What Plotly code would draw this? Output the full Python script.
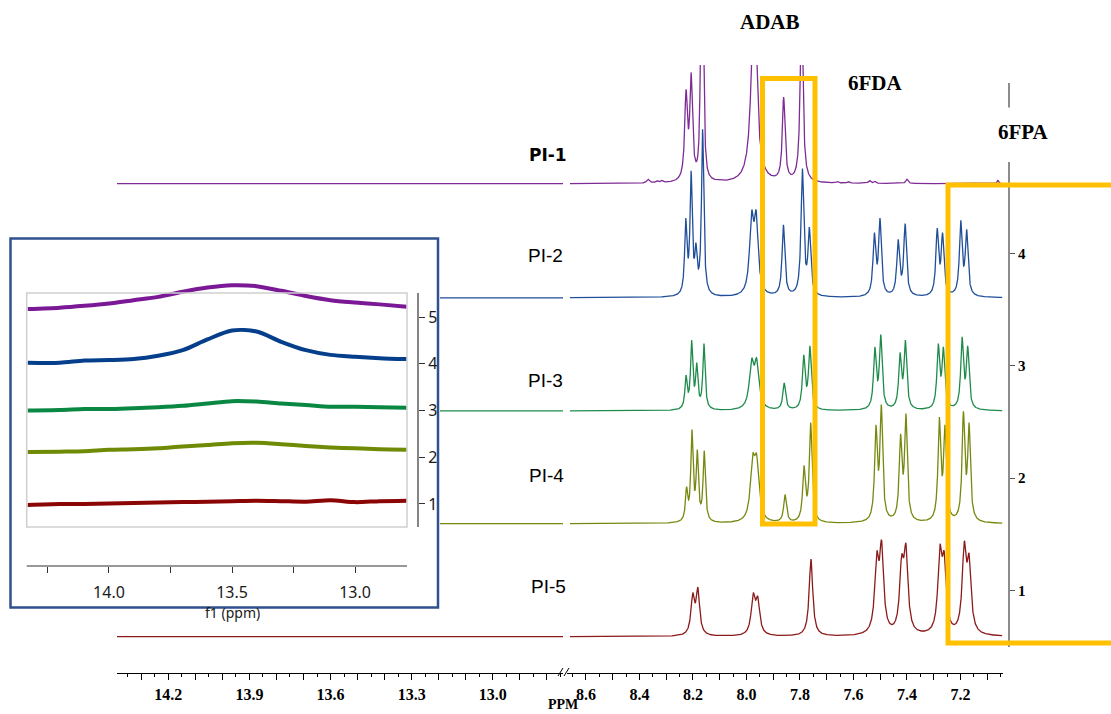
import numpy as np
import plotly.graph_objects as go

W, H = 1111, 714

# ------------------------------------------------------------------ data
series_names = ["PI-1", "PI-2", "PI-3", "PI-4", "PI-5"]
baselines = [4.62, 3.605, 2.598, 1.595, 0.59]
main_colors = ["#7e2b96", "#1f4e9a", "#1e8b4b", "#77880f", "#8b1a1a"]
inset_colors = ["#7a1896", "#053f8b", "#0a8743", "#6f8a05", "#8b0505"]

# peak tables: position (ppm), apex height above baseline, half width (ppm)
pi1_ppm = [8.368, 8.335, 8.316, 8.226, 8.207, 8.170, 8.162, 8.110, 7.972, 7.861, 7.794, 7.660, 7.620, 7.540, 7.520, 7.400, 7.060]
pi1_height = [0.04, 0.03, 0.03, 0.84, 0.99, 1.60, 1.60, 0.04, 1.70, 0.77, 1.60, 0.02, 0.02, 0.03, 0.02, 0.04, 0.03]
pi1_hwhm = [0.006, 0.005, 0.005, 0.006, 0.006, 0.004, 0.004, 0.005, 0.012, 0.006, 0.006, 0.005, 0.005, 0.005, 0.005, 0.005, 0.003]

pi2_ppm = [8.227, 8.207, 8.189, 8.164, 7.981, 7.964, 7.862, 7.791, 7.765, 7.522, 7.501, 7.433, 7.407, 7.287, 7.267, 7.199, 7.177]
pi2_height = [0.71, 1.13, 0.49, 1.50, 0.78, 0.78, 0.65, 1.15, 0.63, 0.58, 0.71, 0.52, 0.66, 0.62, 0.58, 0.69, 0.61]
pi2_hwhm = [0.005, 0.005, 0.005, 0.005, 0.009, 0.009, 0.006, 0.006, 0.006, 0.006, 0.006, 0.006, 0.006, 0.006, 0.006, 0.006, 0.006]

pi3_ppm = [8.226, 8.205, 8.186, 8.159, 7.981, 7.962, 7.859, 7.786, 7.763, 7.520, 7.498, 7.426, 7.406, 7.283, 7.264, 7.194, 7.173]
pi3_height = [0.32, 0.63, 0.43, 0.60, 0.47, 0.47, 0.25, 0.50, 0.58, 0.57, 0.68, 0.52, 0.63, 0.60, 0.57, 0.66, 0.58]
pi3_hwhm = [0.005, 0.005, 0.005, 0.005, 0.010, 0.010, 0.006, 0.006, 0.006, 0.006, 0.006, 0.006, 0.006, 0.006, 0.006, 0.006, 0.006]

pi4_ppm = [8.224, 8.204, 8.184, 8.158, 7.977, 7.962, 7.856, 7.785, 7.760, 7.516, 7.496, 7.424, 7.404, 7.279, 7.258, 7.189, 7.168]
pi4_height = [0.33, 0.84, 0.66, 0.65, 0.62, 0.62, 0.26, 0.52, 0.90, 0.88, 1.06, 0.80, 0.98, 0.95, 0.88, 1.00, 0.90]
pi4_hwhm = [0.005, 0.005, 0.005, 0.005, 0.010, 0.010, 0.006, 0.006, 0.006, 0.006, 0.006, 0.006, 0.006, 0.006, 0.006, 0.006, 0.006]

pi5_ppm = [8.201, 8.182, 7.975, 7.958, 7.759, 7.513, 7.495, 7.420, 7.404, 7.277, 7.261, 7.186, 7.168]
pi5_height = [0.39, 0.44, 0.39, 0.36, 0.69, 0.76, 0.86, 0.73, 0.83, 0.82, 0.76, 0.85, 0.74]
pi5_hwhm = [0.008, 0.008, 0.009, 0.009, 0.008, 0.009, 0.009, 0.009, 0.009, 0.009, 0.009, 0.009, 0.009]

peak_tables = [
    (pi1_ppm, pi1_height, pi1_hwhm),
    (pi2_ppm, pi2_height, pi2_hwhm),
    (pi3_ppm, pi3_height, pi3_hwhm),
    (pi4_ppm, pi4_height, pi4_hwhm),
    (pi5_ppm, pi5_height, pi5_hwhm),
]

# inset (13-14 ppm region)
inset_ppm = [14.33, 14.2, 14.1, 14.0, 13.9, 13.8, 13.7, 13.6, 13.5, 13.4, 13.3, 13.2, 13.1, 13.0, 12.9, 12.79]
inset_pi1 = [5.17, 5.20, 5.24, 5.29, 5.36, 5.43, 5.54, 5.63, 5.68, 5.66, 5.56, 5.45, 5.36, 5.31, 5.27, 5.22]
inset_pi2 = [4.02, 4.02, 4.07, 4.08, 4.10, 4.17, 4.29, 4.52, 4.71, 4.69, 4.47, 4.29, 4.19, 4.15, 4.12, 4.10]
inset_pi3 = [3.00, 3.01, 3.03, 3.03, 3.05, 3.07, 3.10, 3.15, 3.20, 3.19, 3.15, 3.12, 3.08, 3.08, 3.07, 3.06]
inset_pi4 = [2.11, 2.12, 2.13, 2.16, 2.17, 2.19, 2.23, 2.26, 2.30, 2.31, 2.28, 2.24, 2.21, 2.19, 2.17, 2.16]
inset_pi5 = [0.98, 1.00, 1.00, 1.01, 1.02, 1.03, 1.04, 1.05, 1.06, 1.07, 1.06, 1.05, 1.08, 1.04, 1.06, 1.07]
inset_series = [inset_pi1, inset_pi2, inset_pi3, inset_pi4, inset_pi5]

left_tick_labels = [14.2, 13.9, 13.6, 13.3, 13.0]
right_tick_labels = [8.6, 8.4, 8.2, 8.0, 7.8, 7.6, 7.4, 7.2]
y_tick_values = [1, 2, 3, 4]
inset_x_ticks = [14.25, 14.0, 13.75, 13.5, 13.25, 13.0]
inset_x_labels = [14.0, 13.5, 13.0]
inset_y_ticks = [1, 2, 3, 4, 5]

# axis windows
left_range = [14.39, 12.74]
right_range = [8.671, 7.041]
y_range = [0.2695, 5.676]
inset_x_range = [14.402, 12.655]
inset_y_range = [-1.225, 6.69]


# ------------------------------------------------------------------ helpers
def px(x):
    return x / W


def py(y):
    return 1 - y / H


def lorentz_spectrum(x, pos, hgt, hw, base):
    pos = np.asarray(pos, float)
    hgt = np.asarray(hgt, float)
    hw = np.asarray(hw, float)
    M = 1.0 / (1.0 + ((pos[:, None] - pos[None, :]) / hw[None, :]) ** 2)
    active = np.ones(len(pos), bool)
    amp = np.zeros(len(pos))
    for _ in range(10):
        sub = np.linalg.lstsq(M[np.ix_(active, active)], hgt[active], rcond=None)[0]
        amp[:] = 0
        amp[active] = sub
        if (amp >= 0).all():
            break
        active &= amp > 0
    amp = np.clip(amp, 0, None)
    return base + (amp[None, :] / (1 + ((x[:, None] - pos[None, :]) / hw[None, :]) ** 2)).sum(axis=1)


fig = go.Figure()

x_left = np.linspace(left_range[0], left_range[1], 200)
x_right = np.linspace(8.66, 7.044, 4000)

for name, base, col, (pp, hh, ww) in zip(series_names, baselines, main_colors, peak_tables):
    fig.add_trace(go.Scatter(x=x_left, y=np.full_like(x_left, base), xaxis="x", yaxis="y",
                             mode="lines", line=dict(color=col, width=1.3), hoverinfo="skip"))
    fig.add_trace(go.Scatter(x=x_right, y=lorentz_spectrum(x_right, pp, hh, ww, base),
                             xaxis="x2", yaxis="y", mode="lines",
                             line=dict(color=col, width=1.3), name=name))

# inset: white panel then traces
bx = [inset_x_range[0], inset_x_range[1], inset_x_range[1], inset_x_range[0], inset_x_range[0]]
by = [inset_y_range[0], inset_y_range[0], inset_y_range[1], inset_y_range[1], inset_y_range[0]]
fig.add_trace(go.Scatter(x=bx, y=by, xaxis="x3", yaxis="y2", mode="lines", fill="toself",
                         fillcolor="white", line=dict(width=0, color="white"), hoverinfo="skip"))
for vals, col in zip(inset_series, inset_colors):
    fig.add_trace(go.Scatter(x=inset_ppm, y=vals, xaxis="x3", yaxis="y2", mode="lines",
                             line=dict(color=col, width=4, shape="spline", smoothing=0.8)))

# ------------------------------------------------------------------ axes
serif_bold = dict(family="Liberation Serif", size=16, color="black", weight="bold")


def major_ticks(lo, hi, labels):
    vals = np.round(np.arange(lo, hi + 1e-9, 0.1), 2)
    text = [(f"{v:.1f}" if any(abs(v - l) < 1e-6 for l in labels) else "") for v in vals]
    return list(vals), text


lv, lt = major_ticks(12.8, 14.3, left_tick_labels)
rv, rt = major_ticks(7.1, 8.6, right_tick_labels)
ix_text = [(f"{v:.1f}" if v in inset_x_labels else "") for v in inset_x_ticks]

common_x = dict(showline=True, linecolor="black", linewidth=1.2, ticks="outside", ticklen=6,
                tickwidth=1, tickcolor="black", showgrid=False, zeroline=False,
                tickfont=serif_bold, anchor="y", ticklabelstandoff=1,
                minor=dict(dtick=0.05, tick0=0, ticks="outside", ticklen=3, tickcolor="black", showgrid=False))

fig.update_layout(
    width=W, height=H, margin=dict(l=0, r=0, t=0, b=0),
    paper_bgcolor="white", plot_bgcolor="white", showlegend=False,
    xaxis=dict(domain=[px(117), px(563)], range=left_range, tickmode="array", tickvals=lv, ticktext=lt, **common_x),
    xaxis2=dict(domain=[px(567), px(1003)], range=right_range, tickmode="array", tickvals=rv, ticktext=rt, **common_x),
    yaxis=dict(domain=[py(672.7), py(65)], range=y_range, anchor="free", position=px(1009), side="right",
               showline=False, ticks="outside", ticklen=5, tickwidth=1.2, tickcolor="#555",
               tickvals=y_tick_values, tickfont=dict(family="Liberation Serif", size=15, color="black", weight="bold"),
               showgrid=False, zeroline=False),
    xaxis3=dict(domain=[px(10), px(440)], range=inset_x_range, anchor="free", position=py(566),
                showline=False, ticks="outside", ticklen=6, tickwidth=1.2, tickcolor="#333",
                tickvals=inset_x_ticks, ticktext=ix_text,
                tickfont=dict(family="Noto Sans", size=16, color="#1a1a1a"), ticklabelstandoff=6,
                showgrid=False, zeroline=False),
    yaxis2=dict(domain=[py(608), py(238)], range=inset_y_range, anchor="free", position=px(418), side="right",
                showline=False, ticks="outside", ticklen=6, tickwidth=1.2, tickcolor="#333",
                tickvals=inset_y_ticks, tickfont=dict(family="Noto Sans", size=16, color="#1a1a1a"),
                showgrid=False, zeroline=False),
)

# ------------------------------------------------------------------ shapes
shapes = []


def line(x0, y0, x1, y1, color, width):
    shapes.append(dict(type="line", xref="paper", yref="paper", x0=px(x0), y0=py(y0), x1=px(x1), y1=py(y1),
                       line=dict(color=color, width=width), layer="above"))


def rect(x0, y0, x1, y1, color, width):
    shapes.append(dict(type="rect", xref="paper", yref="paper", x0=px(x0), y0=py(y0), x1=px(x1), y1=py(y1),
                       line=dict(color=color, width=width), fillcolor="rgba(0,0,0,0)", layer="above"))


# main y axis line (interrupted by the 6FPA label)
line(1009, 83, 1009, 107.6, "#666", 1.5)
line(1009, 162, 1009, 647, "#666", 1.5)
# axis break marks
line(558, 676, 563, 668, "black", 1)
line(564, 676, 569, 668, "black", 1)
# inset decorations
rect(26.7, 293, 407, 527, "#cfcfcf", 1.5)
line(26.7, 566, 407, 566, "#333", 1.2)
line(418, 293, 418, 527, "#333", 1.2)
rect(10.5, 238.5, 438, 607.5, "#2f528f", 2.5)
# highlight boxes
rect(762.5, 78.5, 815, 524, "#FFC000", 5)
rect(948, 185, 1125, 643, "#FFC000", 5)

fig.update_layout(shapes=shapes)

# ------------------------------------------------------------------ annotations
ann = []


def text(x, y, s, font):
    ann.append(dict(x=px(x), y=py(y), xref="paper", yref="paper", text=s, showarrow=False,
                    xanchor="center", yanchor="middle", font=font))


title_font = dict(family="Liberation Serif", size=21, color="black", weight="bold")
text(770, 22, "ADAB", title_font)
text(875, 83, "6FDA", title_font)
text(1023, 132, "6FPA", title_font)
text(548, 155, "PI-1", dict(family="DejaVu Sans", size=17, color="black", weight="bold"))
lab_font = dict(family="Liberation Sans", size=19, color="black")
for name, (x, y) in zip(series_names[1:], [(545, 255), (545, 380), (546, 475), (548, 586)]):
    text(x, y, name, lab_font)
text(563, 704, "PPM", dict(family="Liberation Serif", size=14, color="black", weight="bold"))
text(232, 612, "f1 (ppm)", dict(family="Noto Sans", size=14, color="#1a1a1a"))

fig.update_layout(annotations=ann)

fig.write_html("out.html")
